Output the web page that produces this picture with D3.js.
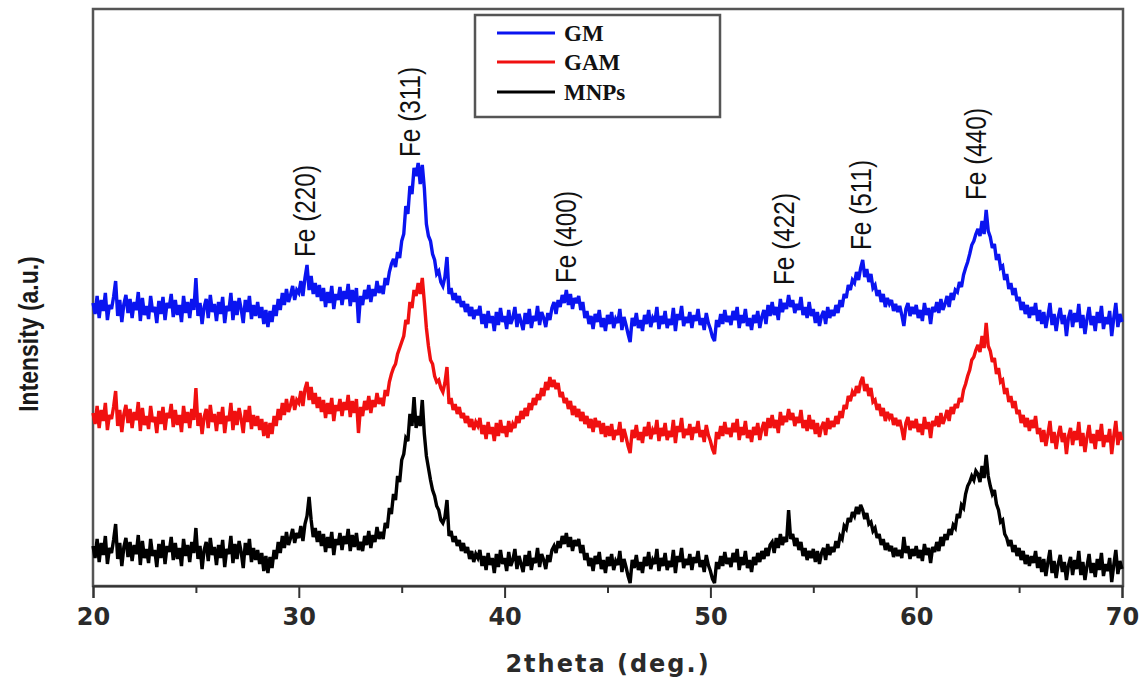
<!DOCTYPE html>
<html>
<head>
<meta charset="utf-8">
<script src="https://cdn.jsdelivr.net/npm/d3@7"></script>
<style>
  html, body { margin: 0; padding: 0; background: #fff; }
  svg { display: block; }
</style>
</head>
<body>
<svg id="chart" width="1146" height="682"></svg>
<script>
// ---------------- DATA ----------------
const twoThetaStart = 20;
const twoThetaStep = 0.1;   // one value every 0.1 deg, 20 .. 70

const seriesNames = ["GM", "GAM", "MNPs"];
const seriesColors = ["#0a14f0", "#f01010", "#000000"];

// Stacked intensities (a.u.), as plotted; one row = 1 degree
const gmValues = [
  283,272,290,268,286,275,293,266,281,277,
  289,305,270,286,264,282,291,273,287,268,
  284,276,294,265,288,271,280,267,290,274,
  279,263,285,272,289,266,283,278,292,269,
  286,271,281,264,290,273,284,268,287,276,
  308,270,283,262,279,287,268,291,274,282,
  265,284,272,289,263,280,275,293,266,285,
  271,288,277,263,286,274,290,267,281,270,
  284,268,279,262,276,259,275,264,281,270,
  287,276,293,281,297,284,291,300,286,296,
  293,305,290,308,321,296,310,292,303,289,
  301,285,298,279,294,283,300,277,292,286,
  299,281,295,287,302,280,296,284,298,263,
  290,281,296,287,301,284,297,290,305,293,
  300,292,308,301,314,322,327,319,334,328,
  345,352,380,372,400,392,418,410,423,402,
  421,398,362,350,345,332,326,312,315,304,
  300,309,329,292,298,286,293,283,290,279,
  285,274,282,270,279,267,276,271,280,262,
  272,258,275,263,270,255,274,261,278,264,
  270,257,276,262,268,279,259,272,264,256,
  273,262,277,258,270,265,280,261,274,268,
  259,273,266,278,284,272,286,279,291,283,
  296,281,292,277,288,283,290,276,284,268,
  275,262,270,257,272,264,276,259,268,255,
  271,262,274,258,267,263,277,256,269,261,
  252,244,268,260,273,258,266,255,271,262,
  276,259,268,264,279,257,270,262,275,258,
  267,261,278,255,272,266,280,260,269,263,
  274,258,271,265,277,261,268,256,273,263,
  257,249,245,266,259,272,262,276,264,270,
  261,275,266,279,258,271,263,277,260,268,
  256,271,263,275,258,269,276,262,281,270,
  284,271,279,266,287,274,283,277,291,279,
  286,273,282,276,289,271,279,268,284,270,
  277,263,274,260,270,275,262,279,268,276,
  270,281,273,286,279,292,288,301,296,306,
  303,314,306,318,326,309,317,304,312,298,
  301,290,296,284,292,279,288,282,286,275,
  282,274,280,271,260,277,283,270,279,272,
  281,268,276,265,283,271,278,262,279,274,
  284,273,287,276,282,290,279,293,286,296,
  294,304,299,311,318,324,332,341,345,352,
  357,350,365,352,376,355,349,338,342,326,
  332,318,320,306,312,297,303,291,298,285,
  289,276,284,272,281,268,279,271,283,265,
  276,262,274,258,270,283,261,272,255,269,
  278,262,271,250,268,276,259,273,264,282,
  258,271,252,267,279,261,270,255,274,263,
  280,257,269,262,275,250,268,283,259,272,
  264
];

const gamValues = [
  173,162,180,158,176,165,183,156,171,167,
  179,195,160,176,154,172,181,163,177,158,
  174,166,184,155,178,161,170,157,180,164,
  169,153,175,162,179,156,173,168,182,159,
  176,161,171,154,180,163,174,158,177,166,
  198,160,173,152,169,177,158,181,164,172,
  155,174,162,179,153,170,165,183,156,175,
  161,178,167,153,176,164,180,157,171,160,
  170,156,167,150,164,148,163,152,170,160,
  177,166,183,171,187,174,181,190,176,186,
  183,195,180,197,204,186,199,182,193,178,
  189,174,186,168,183,172,188,165,181,175,
  187,170,184,176,191,169,185,173,187,153,
  179,170,185,176,190,173,186,179,193,182,
  188,180,196,190,204,212,218,222,232,238,
  244,250,266,262,284,278,296,290,303,292,
  308,284,258,240,226,222,210,204,206,198,
  194,203,219,182,188,176,182,172,179,168,
  173,163,170,159,167,156,164,160,168,152,
  161,147,164,152,159,145,163,150,166,153,
  160,149,165,154,162,158,170,163,175,167,
  178,170,183,176,188,181,192,186,198,190,
  204,196,209,199,206,197,203,189,194,183,
  188,177,185,171,180,169,177,165,174,162,
  170,158,167,154,168,159,165,152,163,149,
  160,150,162,146,156,151,164,144,157,149,
  140,133,156,148,161,146,154,143,159,150,
  164,147,156,152,166,145,158,150,163,146,
  155,149,166,143,160,154,168,148,157,151,
  162,146,159,153,165,149,156,144,161,151,
  145,137,132,154,147,160,150,164,152,158,
  149,163,154,167,146,159,151,165,148,156,
  144,159,151,163,146,157,164,150,168,158,
  171,158,166,153,174,161,170,164,177,166,
  173,160,169,163,176,158,166,155,171,157,
  166,152,163,149,159,164,151,168,157,165,
  159,170,162,175,168,181,177,190,185,194,
  190,200,193,204,209,195,202,190,198,184,
  186,176,182,170,178,165,174,168,172,161,
  168,160,166,157,146,163,169,156,165,158,
  167,154,162,151,169,157,164,148,165,160,
  170,159,173,162,168,176,165,179,172,182,
  178,188,184,196,202,210,216,226,229,236,
  241,234,250,238,263,240,235,224,228,212,
  218,204,206,192,198,184,190,178,185,172,
  176,163,171,159,168,155,166,158,170,152,
  158,144,156,140,152,165,143,154,137,151,
  160,144,153,132,150,158,141,155,146,164,
  140,153,134,149,161,143,152,137,156,145,
  162,139,151,144,157,132,150,165,141,154,
  146
];

const mnpValues = [
  40,28,47,24,43,31,50,22,38,33,
  46,62,27,43,20,39,48,29,44,25,
  41,32,51,21,45,28,37,23,47,30,
  36,19,42,28,46,22,40,34,49,26,
  43,27,38,20,47,30,41,24,44,33,
  58,27,40,17,36,44,25,48,31,39,
  21,41,28,46,19,37,32,50,23,42,
  27,45,34,18,43,31,47,24,38,26,
  36,22,33,15,30,13,29,18,36,27,
  44,33,50,38,54,41,48,57,43,53,
  48,60,45,62,70,89,66,49,58,44,
  55,40,52,34,49,38,54,31,47,41,
  53,36,50,42,57,35,51,39,53,36,
  44,35,50,41,55,38,51,44,59,47,
  54,47,63,58,78,72,92,86,110,104,
  126,132,148,145,172,160,189,158,170,160,
  186,152,130,118,106,96,90,80,76,66,
  63,69,86,50,55,44,50,40,46,35,
  43,33,39,27,35,24,32,28,36,20,
  30,16,33,21,28,13,32,19,36,22,
  28,15,34,20,26,37,17,30,22,14,
  31,20,35,16,28,23,38,19,32,26,
  17,31,24,36,40,33,45,38,50,42,
  53,39,49,35,46,40,47,33,41,26,
  33,20,28,15,30,22,34,17,26,13,
  29,20,32,16,25,21,35,14,27,19,
  10,3,26,18,31,16,24,13,29,20,
  34,17,26,22,37,15,28,20,33,16,
  25,19,36,13,30,24,38,18,27,21,
  32,16,29,23,35,19,26,14,31,21,
  15,7,3,24,17,30,20,34,22,28,
  19,33,24,37,16,29,21,35,18,26,
  14,29,21,33,24,35,27,38,30,41,
  44,33,48,38,52,41,49,44,76,47,
  52,40,48,36,44,30,38,26,35,28,
  37,24,35,22,33,38,26,42,31,39,
  34,45,38,50,47,60,57,68,64,74,
  70,79,72,81,76,67,73,62,64,55,
  58,48,52,41,47,36,43,35,40,29,
  38,30,36,28,49,33,40,27,37,30,
  40,28,36,25,42,31,38,23,39,34,
  44,35,49,40,52,46,57,51,61,58,
  72,68,81,78,92,100,104,110,106,115,
  112,104,120,108,131,110,100,92,96,82,
  76,64,66,52,48,40,46,34,41,30,
  38,26,35,22,31,20,30,23,35,18,
  29,14,27,10,24,36,13,25,8,22,
  31,14,24,6,21,29,11,26,17,35,
  11,24,6,20,32,13,23,9,27,16,
  33,10,22,15,28,4,21,36,12,25,
  17
];

// Peak annotations
const peakLabels = ["Fe (220)", "Fe (311)", "Fe (400)", "Fe (422)", "Fe (511)", "Fe (440)"];
const peakPositions = [30.3, 35.4, 43.0, 53.6, 57.3, 62.9];
const peakLabelFoot = [329, 429, 303, 301, 336, 386];

const xTickValues = [20, 25, 30, 35, 40, 45, 50, 55, 60, 65, 70];
const xMajorTicks = [20, 30, 40, 50, 60, 70];

const xTitle = "2theta (deg.)";
const yTitle = "Intensity (a.u.)";

// ---------------- CHART ----------------
const svg = d3.select("#chart");
const W = 1146, H = 682;
const plot = { left: 93, right: 1123, top: 9, bottom: 586 };

const x = d3.scaleLinear().domain([20, 70]).range([plot.left, plot.right - 1]);
const y = d3.scaleLinear().domain([0, 577]).range([plot.bottom, plot.top]);

svg.append("rect").attr("width", W).attr("height", H).attr("fill", "#fff");

// frame
svg.append("rect")
  .attr("x", plot.left).attr("y", plot.top)
  .attr("width", plot.right - plot.left).attr("height", plot.bottom - plot.top)
  .attr("fill", "none").attr("stroke", "#555").attr("stroke-width", 2.5);

// traces
const allSeries = [gmValues, gamValues, mnpValues];
const line = d3.line()
  .x((d, i) => x(twoThetaStart + i * twoThetaStep))
  .y(d => y(d));

const drawOrder = [2, 1, 0];
drawOrder.forEach(k => {
  svg.append("path")
    .datum(allSeries[k])
    .attr("fill", "none")
    .attr("stroke", seriesColors[k])
    .attr("stroke-width", 3.4)
    .attr("stroke-linejoin", "miter")
    .attr("stroke-miterlimit", 3)
    .attr("d", line);
});

// x axis
const xAxis = d3.axisBottom(x)
  .tickValues(xTickValues)
  .tickSize(12)
  .tickPadding(10)
  .tickFormat(d => xMajorTicks.includes(d) ? d : "");

const gx = svg.append("g")
  .attr("transform", `translate(0,${plot.bottom})`)
  .call(xAxis);
gx.select(".domain").attr("stroke", "#333").attr("stroke-width", 2);
gx.selectAll(".tick line")
  .attr("stroke", "#333").attr("stroke-width", 2)
  .attr("y2", d => xMajorTicks.includes(d) ? 12 : 7);
gx.selectAll(".tick text")
  .attr("fill", "#2a2a2a")
  .style("font-family", "'DejaVu Sans', Verdana, sans-serif")
  .style("font-weight", "bold")
  .style("font-size", "24px");

// axis titles
svg.append("text")
  .attr("x", (plot.left + plot.right) / 2)
  .attr("y", 672)
  .attr("text-anchor", "middle")
  .attr("fill", "#2a2a2a")
  .style("font-family", "'DejaVu Sans', Verdana, sans-serif")
  .style("font-weight", "bold")
  .style("font-size", "24px")
  .style("letter-spacing", "2px")
  .text(xTitle);

svg.append("text")
  .attr("transform", "translate(38,334) rotate(-90) scale(0.85,1)")
  .attr("text-anchor", "middle")
  .attr("fill", "#1a1a1a")
  .style("font-family", "'Liberation Sans', Arial, sans-serif")
  .style("font-weight", "bold")
  .style("font-size", "27px")
  .text(yTitle);

// peak labels
peakLabels.forEach((lab, i) => {
  const px = x(peakPositions[i]);
  const py = y(peakLabelFoot[i]);
  svg.append("text")
    .attr("transform", `translate(${px + 10},${py}) rotate(-90) scale(0.84,1)`)
    .attr("text-anchor", "start")
    .attr("fill", "#111")
    .style("font-family", "'Liberation Sans', Arial, sans-serif")
    .style("font-size", "29px")
    .text(lab);
});

// legend
const lg = svg.append("g");
lg.append("rect")
  .attr("x", 475).attr("y", 15).attr("width", 245).attr("height", 102)
  .attr("fill", "#fff").attr("stroke", "#555").attr("stroke-width", 2.5);
const legendY = [33, 62, 92];
seriesNames.forEach((name, i) => {
  lg.append("line")
    .attr("x1", 497).attr("x2", 555)
    .attr("y1", legendY[i]).attr("y2", legendY[i])
    .attr("stroke", seriesColors[i]).attr("stroke-width", 3);
  lg.append("text")
    .attr("x", 564).attr("y", legendY[i] + 8)
    .attr("fill", "#111")
    .style("font-family", "'Liberation Serif', 'Times New Roman', serif")
    .style("font-weight", "bold")
    .style("font-size", "23px")
    .text(name);
});
</script>
</body>
</html>
